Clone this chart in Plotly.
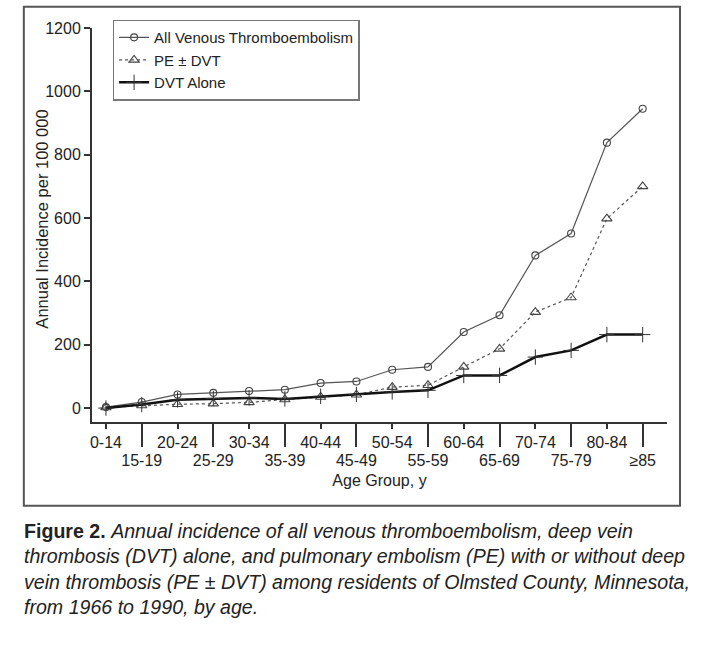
import plotly.graph_objects as go

ages = ["0-14", "15-19", "20-24", "25-29", "30-34", "35-39", "40-44", "45-49",
        "50-54", "55-59", "60-64", "65-69", "70-74", "75-79", "80-84", "≥85"]
all_vte = [3, 19, 43, 48, 54, 58, 79, 84, 121, 130, 240, 293, 482, 551, 838, 945]
pe_dvt = [2, 8, 12, 14, 18, 27, 35, 42, 66, 72, 130, 187, 303, 349, 598, 700]
dvt_alone = [0, 11, 26, 30, 32, 29, 37, 43, 51, 56, 103, 103, 161, 182, 232, 232]
y_ticks = [0, 200, 400, 600, 800, 1000, 1200]

FONT = "Liberation Sans, Arial, sans-serif"
W, H = 708, 650
L, R, T, B = 91.7, 667.0, 27.7, 421.7
PW, PH = R - L, B - T


def px_x(p):
    return (p - L) / PW


def px_y(p):
    return (B - p) / PH


fig = go.Figure()
fig.add_trace(go.Scatter(
    x=ages, y=all_vte, name="All Venous Thromboembolism", mode="lines+markers",
    line=dict(color="#555555", width=1.2),
    marker=dict(symbol="circle-open", size=7, color="#444444", line=dict(width=1.1))))
fig.add_trace(go.Scatter(
    x=ages, y=pe_dvt, name="PE ± DVT", mode="lines+markers",
    line=dict(color="#555555", width=1.2, dash="dot"),
    marker=dict(symbol="triangle-up-open", size=9, color="#444444", line=dict(width=1.1))))
fig.add_trace(go.Scatter(
    x=ages, y=dvt_alone, name="DVT Alone", mode="lines+markers",
    line=dict(color="#111111", width=2.5),
    marker=dict(symbol="cross-thin-open", size=11, color="#333333", line=dict(width=1))))

even = [a for i, a in enumerate(ages) if i % 2 == 0]
odd_idx = [i for i in range(len(ages)) if i % 2 == 1]
odd_lab = [ages[i] for i in odd_idx]

fig.update_layout(
    width=W, height=H,
    margin=dict(l=L, r=W - R, t=T, b=H - B, autoexpand=False),
    paper_bgcolor="white", plot_bgcolor="white",
    font=dict(family=FONT, size=16, color="#222222"),
    showlegend=True,
    legend=dict(x=px_x(112.5), y=px_y(19.5), xanchor="left", yanchor="top",
                bordercolor="#777777", borderwidth=1.3, bgcolor="white",
                font=dict(size=15, family=FONT), tracegroupgap=0,
                itemwidth=30),
    xaxis=dict(type="category", categoryorder="array", categoryarray=ages,
               range=[-0.39, 15.68], tickmode="array", tickvals=even, ticktext=even,
               ticks="outside", ticklen=5, tickwidth=1.5, tickcolor="#333333",
               showline=True, linecolor="#333333", linewidth=2, showgrid=False,
               zeroline=False, tickfont=dict(size=16)),
    xaxis2=dict(overlaying="x", side="bottom", anchor="y", range=[-0.39, 15.68],
                tickmode="array", tickvals=odd_idx, ticktext=odd_lab,
                ticks="outside", ticklen=24, tickwidth=1.5, tickcolor="#333333",
                showline=False, showgrid=False, zeroline=False,
                tickfont=dict(size=16),
                title=dict(text="Age Group, y", font=dict(size=16), standoff=6)),
    yaxis=dict(range=[-44, 1200], tickmode="array", tickvals=y_ticks,
               ticks="outside", ticklen=6, tickwidth=1.5, tickcolor="#333333",
               showline=True, linecolor="#333333", linewidth=2, showgrid=False,
               zeroline=False, tickfont=dict(size=16)),
)
# invisible helper trace so xaxis2 renders
fig.add_trace(go.Scatter(x=[0], y=[None], xaxis="x2", yaxis="y", showlegend=False,
                         hoverinfo="skip", mode="markers", marker=dict(opacity=0)))

# y-axis title
fig.add_annotation(text="Annual Incidence per 100 000", xref="paper", yref="paper",
                   x=px_x(42), y=px_y(219), xanchor="center", yanchor="middle",
                   textangle=-90, showarrow=False,
                   font=dict(size=16.5, family=FONT, color="#222222"))

# outer frame
fig.add_shape(type="rect", xref="paper", yref="paper",
              x0=px_x(23.5), x1=px_x(680), y0=px_y(505.5), y1=px_y(6.5),
              line=dict(color="#555555", width=2), fillcolor="rgba(0,0,0,0)", layer="below")

caption = ("<b>Figure 2.</b> <i>Annual incidence of all venous thromboembolism, deep vein<br>"
           "thrombosis (DVT) alone, and pulmonary embolism (PE) with or without deep<br>"
           "vein thrombosis (PE ± DVT) among residents of Olmsted County, Minnesota,<br>"
           "from 1966 to 1990, by age.</i>")
fig.add_annotation(text=caption, xref="paper", yref="paper", x=px_x(22), y=px_y(518),
                   xanchor="left", yanchor="top", align="left", showarrow=False,
                   font=dict(size=19.6, family=FONT, color="#222222"))

fig.write_html("out.html")
